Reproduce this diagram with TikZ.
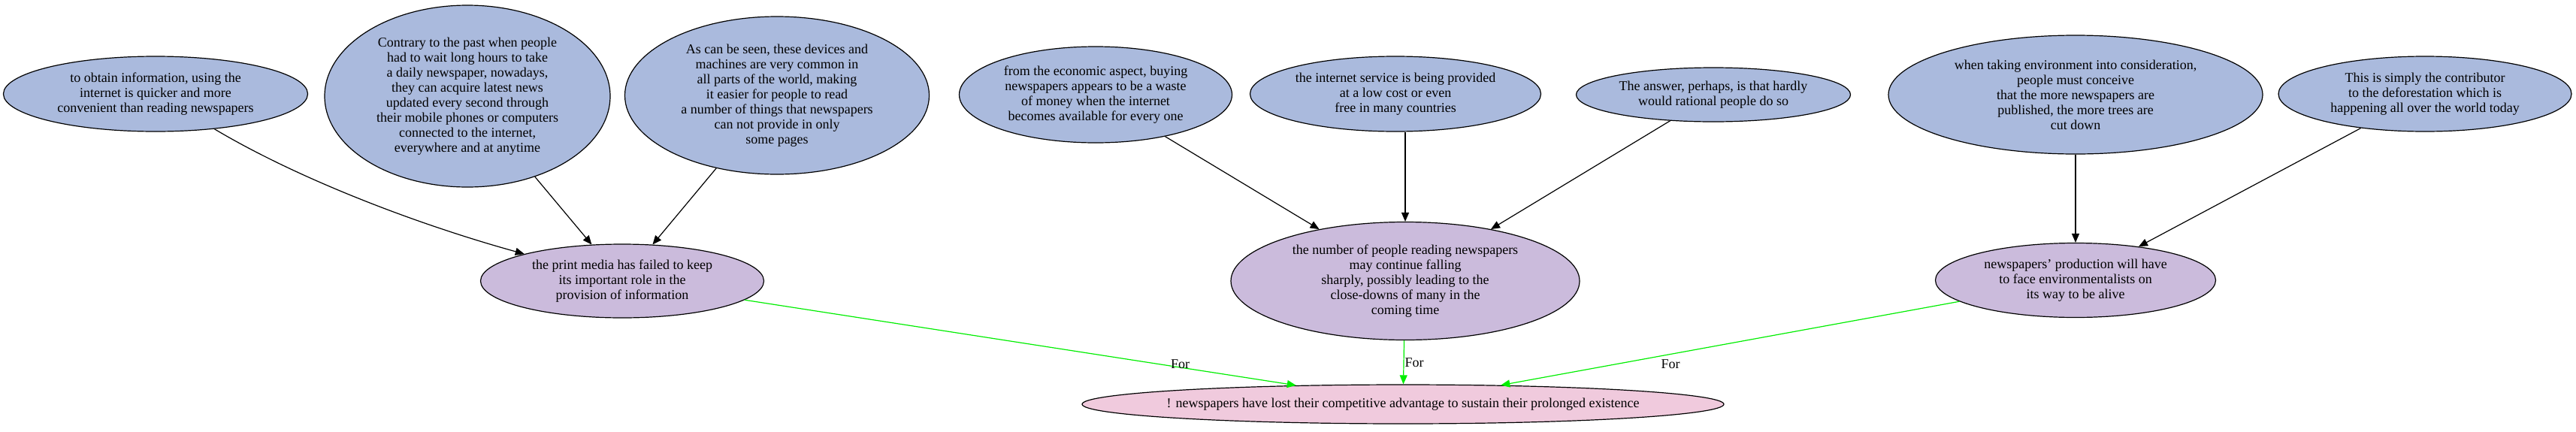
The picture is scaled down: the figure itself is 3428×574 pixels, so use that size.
\documentclass[tikz,border=0pt]{standalone}
\usepackage{fontspec}
\setmainfont{Liberation Serif}
\usetikzlibrary{arrows.meta,shapes.geometric}
\definecolor{ClaimFill}{HTML}{AABADD}
\definecolor{SubFill}{HTML}{CBBBDC}
\definecolor{GoalFill}{HTML}{F0CADD}
\definecolor{ProGreen}{HTML}{00EE00}
\tikzset{
  arg/.style={ellipse,draw=black,line width=1.2pt,inner sep=0pt,align=center,font=\fontsize{18}{20}\selectfont},
  claim/.style={arg,fill=ClaimFill},
  subclaim/.style={arg,fill=SubFill},
  mainclaim/.style={arg,fill=GoalFill},
  link/.style={-{Triangle[length=12pt,width=10pt]},black,line width=1.2pt},
  pro/.style={link,ProGreen},
  forlbl/.style={font=\fontsize{18}{20}\selectfont,inner sep=1pt,text=black}
}
\begin{document}
\begin{tikzpicture}[x=1pt,y=-1pt]
\useasboundingbox (0,0) rectangle (3428,574);
% top row
\node[claim,minimum width=405,minimum height=100] (quick) at (207,125) {to obtain information, using the\\internet is quicker and more\\convenient than reading newspapers};
\node[claim,minimum width=380,minimum height=242,inner ysep=-5pt] (mobile) at (622,128) {Contrary to the past when people\\had to wait long hours to take\\a daily newspaper, nowadays,\\they can acquire latest news\\updated every second through\\their mobile phones or computers\\connected to the internet,\\everywhere and at anytime};
\node[claim,minimum width=405,minimum height=210] (common) at (1034,127) {As can be seen, these devices and\\machines are very common in\\all parts of the world, making\\it easier for people to read\\a number of things that newspapers\\can not provide in only\\some pages};
\node[claim,minimum width=363,minimum height=128] (waste) at (1458,126) {from the economic aspect, buying\\newspapers appears to be a waste\\of money when the internet\\becomes available for every one};
\node[claim,minimum width=387,minimum height=100] (cheap) at (1857,125) {the internet service is being provided\\at a low cost or even\\free in many countries};
\node[claim,minimum width=365,minimum height=72] (rational) at (2280,126) {The answer, perhaps, is that hardly\\would rational people do so};
\node[claim,minimum width=498,minimum height=158] (trees) at (2762,126) {when taking environment into consideration,\\people must conceive\\that the more newspapers are\\published, the more trees are\\cut down};
\node[claim,minimum width=390,minimum height=100] (forest) at (3227,125) {This is simply the contributor\\to the deforestation which is\\happening all over the world today};
% middle row
\node[subclaim,minimum width=377,minimum height=98] (media) at (828,374) {the print media has failed to keep\\its important role in the\\provision of information};
\node[subclaim,minimum width=464,minimum height=157] (falling) at (1870,374) {the number of people reading newspapers\\may continue falling\\sharply, possibly leading to the\\close-downs of many in the\\coming time};
\node[subclaim,minimum width=373,minimum height=99] (green) at (2762,373) {newspapers' production will have\\to face environmentalists on\\its way to be alive};
% conclusion
\node[mainclaim,minimum width=854,minimum height=52,inner xsep=-20pt] (lost) at (1867,538) {! newspapers have lost their competitive advantage to sustain their prolonged existence};
% supports
\draw[link] (quick) .. controls (400,240) and (560,300) .. (media);
\draw[link] (mobile) -- (media);
\draw[link] (common) -- (media);
\draw[link] (waste) -- (falling);
\draw[link] (falling.north |- cheap.south) -- (falling.north);
\draw[link] (rational) -- (falling);
\draw[link] (trees) -- (green);
\draw[link] (forest) -- (green);
% for the conclusion
\draw[pro] (media) -- (lost.170) node[forlbl,pos=0.79,anchor=south,yshift=-3pt] (for1) {For};
\draw[pro] (falling) -- (lost) node[forlbl,pos=0.5,anchor=west] (for2) {For};
\draw[pro] (green) -- (lost.11) node[forlbl,pos=0.63,anchor=north,yshift=-6pt] (for3) {For};
\end{tikzpicture}
\end{document}
